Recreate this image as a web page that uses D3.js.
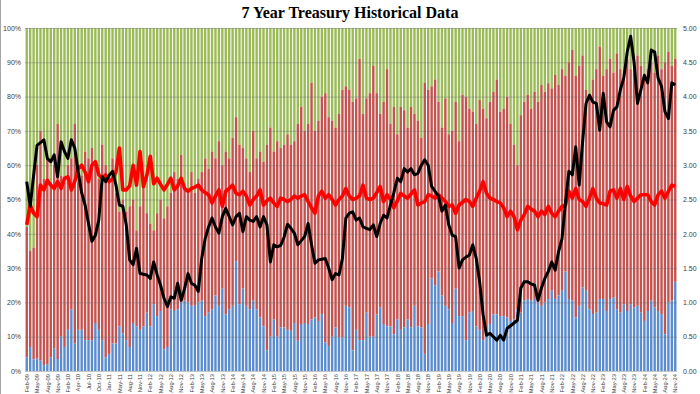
<!DOCTYPE html>
<html>
<head>
<meta charset="utf-8">
<script src="https://cdn.jsdelivr.net/npm/d3@7"></script>
<style>
  body { margin: 0; background: #fff; }
  svg { display: block; }
</style>
</head>
<body>
<div id="chart"></div>
<script>
var width = 700;
var height = 394;
var plot = {left: 25, right: 677, top: 28, bottom: 371};

// one label for every third auction
var tickLabels = [
  "Feb-09","May-09","Aug-09","Nov-09","Feb-10","Apr-10","Jul-10","Oct-10","Jan-11","May-11","Aug-11","Nov-11",
  "Feb-12","May-12","Aug-12","Nov-12","Feb-13","May-13","Aug-13","Nov-13","Feb-14","May-14","Aug-14","Nov-14",
  "Feb-15","May-15","Aug-15","Nov-15","Feb-16","May-16","Aug-16","Nov-16","Feb-17","May-17","Aug-17","Nov-17",
  "Feb-18","May-18","Aug-18","Nov-18","Feb-19","May-19","Aug-19","Nov-19","Feb-20","May-20","Aug-20","Nov-20",
  "Feb-21","May-21","Aug-21","Nov-21","Feb-22","May-22","Aug-22","Nov-22","Feb-23","May-23","Aug-23","Nov-23",
  "Feb-24","May-24","Aug-24","Nov-24"
];

// directs, % of allotment (blue)
var direct = [
  4,7,3.4,3.6,3,1.7,2,4,6.5,3.5,
  10,7,12,18,8,12,12,9,9,9,
  14,12,9,4,5,8,8,13,11,9,
  7,14,13,12,13,17,13,19.5,16,17.5,
  6.3,7,18,17.5,18,20,20.5,20,19,19,
  20,20.5,16,17,18,22,19,24,16.5,18,
  19,32,19.5,24,19,18,20.5,18,15.6,13,
  6,10,15,10,12.7,12.7,12,11.7,14,8.8,
  13.7,14,13.7,15,15.6,14.6,16.6,8.3,7.3,10,
  12.7,9.8,9.8,19,18.5,6,12,9,9,17,
  10,10,16.5,18.5,13.7,13,13,10.7,15,12,
  12.7,15,12.7,19,13,12.7,5,13.7,27,25,
  29,22,19,18,14,24,16,16,9,17,
  17.5,13,12,9,12,13.7,16.5,16.5,16,16,
  15.6,14.6,15,18,17,20.5,21,20.5,21,20,
  19,20,21,23.4,21,22,23.4,29,21,20.5,
  15.6,19,24.4,23.4,18,16.6,17,21,21,17.5,
  21,21.5,18,17,19.5,17.5,19.5,18.5,19,17,
  14.6,17.5,20.5,18.5,17.5,16.6,10.7,20,20.5,26
];

// directs + indirects, cumulative % (top of red); dealers fill to 100%
var directIndirect = [
  42,35,36,60,70,56,62,55,60,72,
  57,55,60,62,72,55,57,64,62,65,
  61,56,66,60,57,62,52,46.5,50,46.5,
  48,50,41,48,54,46,43,41,46,50,
  44.5,48,52,58,56,63,54,52,58,52,
  56,58,62,59,64,62,67,60,64,62,
  68,74,66,65,62,58,70,62,64,61,
  66,71,64,67,65,66,69,66,67,72,
  77,70,72,84,70,73,80,81,74,73,
  71,75,82,83,82,78.5,79.5,91,75,79.5,
  81,89,81,75,78.5,88,72,77,69,77,
  76,71,77,75,73,68,84,82,83,85,
  78.5,71,79.5,69,70,78.5,67,80.5,80,76.5,
  75.6,72,79,76.5,73.7,78.5,81.4,85,75.6,76.5,
  80,72,66,60,74.6,78.5,80.5,76.5,81.4,78.5,
  83.4,81.4,83.9,82.4,86.3,83.4,88,86,90,93.6,
  86,89,92,82,80,85,88,94.6,86,88,
  91,87,92.6,88,86,91,88,87,92,89,
  86,88,90,87,92,88,90,93,89,91
];

// high yield, % (black line, right axis)
var highYield = [
  2.76,2.40,2.85,3.29,3.33,3.37,3.10,3.05,3.15,2.83,
  3.34,3.20,3.10,3.37,3.25,2.90,2.60,2.42,2.15,1.89,
  1.98,2.20,2.83,2.76,2.85,2.91,2.71,2.42,2.40,2.13,
  1.62,1.55,1.79,1.42,1.41,1.40,1.35,1.59,1.40,1.25,
  1.06,0.94,1.08,1.06,1.28,1.03,1.20,1.42,1.28,1.25,
  1.16,1.64,1.93,2.10,2.23,2.10,2.01,2.25,2.37,2.25,
  2.13,2.25,2.30,2.03,2.25,2.20,2.18,2.25,2.10,2.25,
  2.13,1.59,1.84,1.81,1.83,1.95,2.14,2.08,2.01,1.84,
  1.90,1.96,2.15,1.84,1.57,1.62,1.63,1.64,1.50,1.33,
  1.42,1.40,1.64,2.23,2.30,2.32,2.20,2.23,2.10,2.08,
  2.06,2.13,1.96,2.15,2.27,2.23,2.42,2.60,2.81,2.76,
  2.95,2.90,2.95,2.86,2.88,3.00,3.08,3.00,2.69,2.62,
  2.55,2.33,2.42,2.13,1.98,1.96,1.50,1.62,1.66,1.69,
  1.84,1.64,1.30,0.82,0.52,0.55,0.50,0.45,0.52,0.45,
  0.62,0.66,0.70,0.74,1.21,1.30,1.30,1.27,1.25,1.03,
  1.21,1.35,1.45,1.59,1.47,1.74,1.93,2.45,2.91,2.86,
  3.27,2.71,3.34,3.90,4.02,3.92,3.90,3.51,4.05,3.63,
  3.56,3.80,3.85,4.10,4.27,4.65,4.88,4.50,3.90,4.10,
  4.31,4.20,4.68,4.65,4.27,4.15,3.78,3.68,4.20,4.17
];

// bid to cover (red line, right axis)
var bidToCover = [
  2.13,2.42,2.30,2.25,2.71,2.64,2.78,2.71,2.66,2.76,
  2.66,2.81,2.83,2.64,2.76,2.95,3.00,2.90,2.76,3.00,
  3.05,2.86,2.81,2.86,2.76,2.80,2.90,3.25,2.64,2.64,
  2.70,3.00,2.71,3.20,2.69,2.85,3.13,2.73,2.81,2.72,
  2.64,2.72,2.81,2.64,2.70,2.81,2.66,2.62,2.66,2.68,
  2.71,2.64,2.60,2.57,2.45,2.55,2.64,2.40,2.62,2.66,
  2.71,2.59,2.57,2.62,2.55,2.42,2.50,2.55,2.64,2.42,
  2.48,2.52,2.45,2.40,2.52,2.50,2.47,2.50,2.55,2.52,
  2.55,2.57,2.47,2.38,2.30,2.55,2.62,2.52,2.57,2.50,
  2.42,2.50,2.55,2.66,2.55,2.50,2.52,2.55,2.71,2.52,
  2.50,2.52,2.60,2.69,2.47,2.57,2.50,2.38,2.48,2.59,
  2.55,2.52,2.58,2.64,2.42,2.45,2.47,2.57,2.55,2.52,
  2.57,2.52,2.47,2.40,2.42,2.30,2.42,2.46,2.50,2.47,
  2.40,2.52,2.62,2.76,2.59,2.52,2.50,2.47,2.45,2.38,
  2.25,2.33,2.25,2.06,2.20,2.28,2.40,2.36,2.33,2.25,
  2.33,2.28,2.40,2.30,2.25,2.33,2.40,2.42,2.62,2.52,
  2.66,2.50,2.47,2.40,2.52,2.66,2.52,2.45,2.44,2.42,
  2.62,2.64,2.52,2.66,2.50,2.69,2.55,2.47,2.52,2.57,
  2.57,2.57,2.47,2.42,2.57,2.62,2.52,2.62,2.71,2.69
];

var svg = d3.select("#chart")
  .append("svg")
  .attr("width", width)
  .attr("height", height);

svg.append("line")
  .attr("x1", 0.5).attr("x2", 0.5)
  .attr("y1", 0).attr("y2", height)
  .attr("stroke", "#a6a6a6");

var xScale = d3.scaleBand()
  .domain(d3.range(direct.length))
  .range([plot.left, plot.right])
  .paddingInner(0.3)
  .paddingOuter(0.16);

var yScale = d3.scaleLinear()
  .domain([0, 100])
  .range([plot.bottom, plot.top]);

var yRight = d3.scaleLinear()
  .domain([0, 5])
  .range([plot.bottom, plot.top]);

var idx = d3.range(direct.length);

// dealers (green)
svg.append("g").selectAll("rect")
  .data(idx)
  .enter()
  .append("rect")
    .attr("x", function(i) { return xScale(i); })
    .attr("y", yScale(100))
    .attr("width", xScale.bandwidth())
    .attr("height", function(i) { return yScale(directIndirect[i]) - yScale(100); })
    .attr("fill", "#9bbb59");

// indirects (red)
svg.append("g").selectAll("rect")
  .data(idx)
  .enter()
  .append("rect")
    .attr("x", function(i) { return xScale(i); })
    .attr("y", function(i) { return yScale(directIndirect[i]); })
    .attr("width", xScale.bandwidth())
    .attr("height", function(i) { return yScale(direct[i]) - yScale(directIndirect[i]); })
    .attr("fill", "#c4524f");

// directs (blue)
svg.append("g").selectAll("rect")
  .data(idx)
  .enter()
  .append("rect")
    .attr("x", function(i) { return xScale(i); })
    .attr("y", function(i) { return yScale(direct[i]); })
    .attr("width", xScale.bandwidth())
    .attr("height", function(i) { return yScale(0) - yScale(direct[i]); })
    .attr("fill", "#5a8cce");

// gridlines
svg.append("g").selectAll("line")
  .data(d3.range(0, 101, 10))
  .enter()
  .append("line")
    .attr("x1", plot.left)
    .attr("x2", plot.right)
    .attr("y1", function(d) { return yScale(d) + 0.5; })
    .attr("y2", function(d) { return yScale(d) + 0.5; })
    .attr("stroke", "#6f6f6f")
    .attr("stroke-opacity", 0.5)
    .attr("stroke-width", 0.8);

var cx = function(i) { return xScale(i) + xScale.bandwidth() / 2; };

svg.append("path")
  .datum(idx)
  .attr("fill", "none")
  .attr("stroke", "#ff0000")
  .attr("stroke-width", 3.6)
  .attr("stroke-linejoin", "round")
  .attr("d", d3.line().x(cx).y(function(i) { return yRight(bidToCover[i]); }));

svg.append("path")
  .datum(idx)
  .attr("fill", "none")
  .attr("stroke", "#000000")
  .attr("stroke-width", 3)
  .attr("stroke-linejoin", "round")
  .attr("d", d3.line().x(cx).y(function(i) { return yRight(highYield[i]); }));

var leftAxis = svg.append("g")
  .attr("transform", `translate(${plot.left},0)`)
  .call(d3.axisLeft(yScale)
    .tickValues(d3.range(0, 101, 10))
    .tickFormat(function(d) { return d + "%"; })
    .tickSize(0)
    .tickPadding(4));

var rightAxis = svg.append("g")
  .attr("transform", `translate(${plot.right},0)`)
  .call(d3.axisRight(yRight)
    .tickValues(d3.range(0, 5.01, 0.5))
    .tickFormat(d3.format(".2f"))
    .tickSize(0)
    .tickPadding(6));

[leftAxis, rightAxis].forEach(function(ax) {
  ax.select(".domain").remove();
  ax.selectAll("text")
    .style("font-family", "'Liberation Sans', Arial, sans-serif")
    .style("font-size", "7px")
    .attr("fill", "#404040");
});

// month labels, small enough to fit under the plot
svg.append("g").selectAll("text")
  .data(tickLabels)
  .enter()
  .append("text")
    .attr("transform", function(d, k) {
      return "translate(" + (cx(k * 3) + 2.2) + "," + (plot.bottom + 3) + ") rotate(-90)";
    })
    .attr("text-anchor", "end")
    .style("font-family", "'Liberation Sans', Arial, sans-serif")
    .style("font-size", "5.8px")
    .attr("fill", "#404040")
    .text(function(d) { return d; });

svg.append("text")
  .attr("x", width / 2)
  .attr("y", 18)
  .attr("text-anchor", "middle")
  .style("font-family", "'Liberation Serif', 'Times New Roman', serif")
  .style("font-weight", "bold")
  .style("font-size", "16px")
  .text("7 Year Treasury Historical Data");
</script>
</body>
</html>
